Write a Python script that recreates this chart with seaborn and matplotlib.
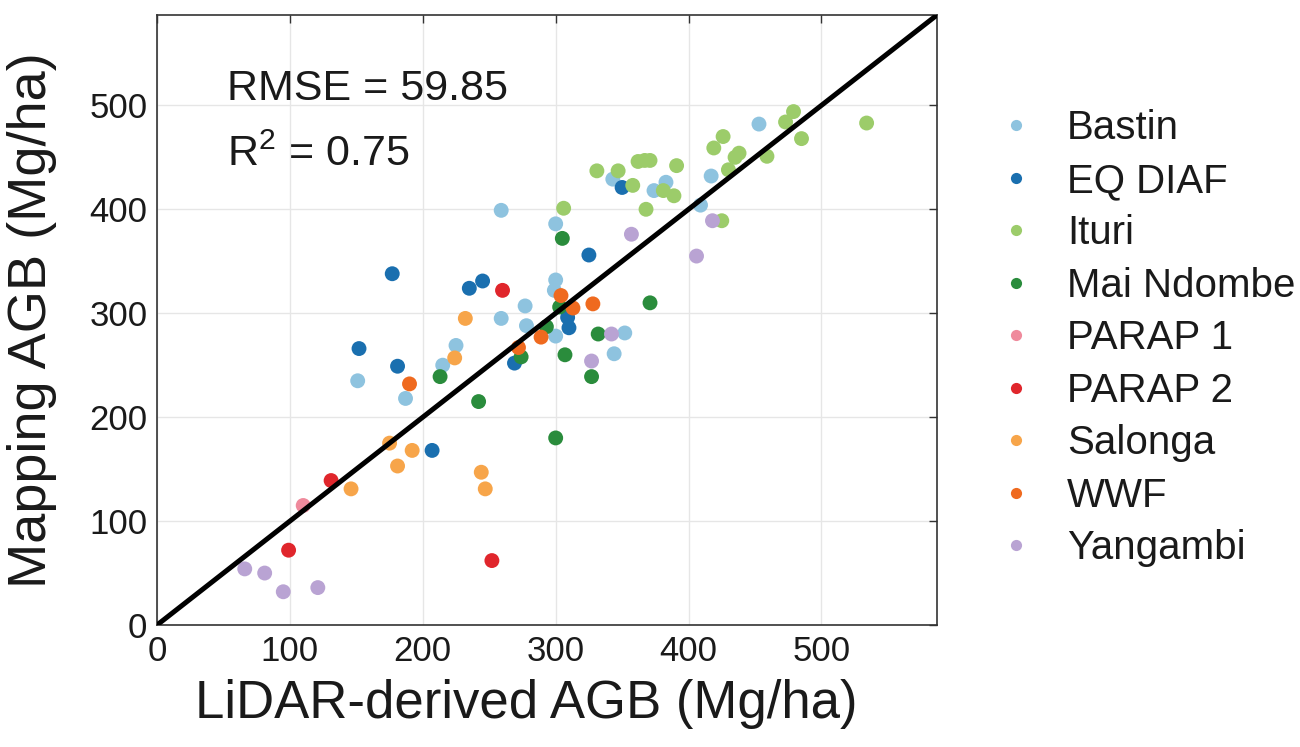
import numpy as np
import pandas as pd
import matplotlib
matplotlib.use("Agg")
import matplotlib.pyplot as plt
import seaborn as sns

# ---------------- data ----------------
groups = ["Bastin", "EQ DIAF", "Ituri", "Mai Ndombe", "PARAP 1",
          "PARAP 2", "Salonga", "WWF", "Yangambi"]

bastin_x = [259, 300, 300, 299, 277, 259, 278, 300, 225, 215, 344, 352, 151, 187, 453, 417, 343, 383, 374, 409]
bastin_y = [399, 386, 332, 322, 307, 295, 288, 278, 269, 250, 261, 281, 235, 218, 482, 432, 429, 426, 418, 404]

eqdiaf_x = [177, 235, 245, 325, 309, 310, 269, 152, 181, 207, 350]
eqdiaf_y = [338, 324, 331, 356, 296, 286, 252, 266, 249, 168, 421]

ituri_x = [306, 479, 473, 534, 485, 426, 419, 438, 435, 459, 362, 367, 371, 391, 331, 347, 430, 358, 381, 389, 368, 425]
ituri_y = [401, 494, 484, 483, 468, 470, 459, 454, 450, 451, 446, 447, 447, 442, 437, 437, 438, 423, 418, 413, 400, 389]

maindombe_x = [305, 303, 293, 332, 274, 213, 307, 327, 242, 300, 371]
maindombe_y = [372, 306, 287, 280, 258, 239, 260, 239, 215, 180, 310]

parap1_x = [110]
parap1_y = [115]

parap2_x = [260, 131, 99, 252]
parap2_y = [322, 139, 72, 62]

salonga_x = [232, 224, 175, 192, 181, 244, 247, 146]
salonga_y = [295, 257, 175, 168, 153, 147, 131, 131]

wwf_x = [304, 328, 313, 289, 272, 190]
wwf_y = [317, 309, 305, 277, 267, 232]

yangambi_x = [342, 327, 357, 418, 406, 66, 81, 95, 121]
yangambi_y = [280, 254, 376, 389, 355, 54, 50, 32, 36]

ticks = [0, 100, 200, 300, 400, 500]
rmse_text = "RMSE = 59.85"
r2_text = r"R$^{\mathrm{2}}$ = 0.75"
xlabel = "LiDAR-derived AGB (Mg/ha)"
ylabel = "Mapping AGB (Mg/ha)"

colors = ["#8ec3df", "#1a6faf", "#9ccc6a", "#2a8c3c", "#ef8a9c",
          "#e0262c", "#f7a54a", "#ef6a1f", "#b9a3d3"]

# ---------------- build frame ----------------
xs = [bastin_x, eqdiaf_x, ituri_x, maindombe_x, parap1_x, parap2_x, salonga_x, wwf_x, yangambi_x]
ys = [bastin_y, eqdiaf_y, ituri_y, maindombe_y, parap1_y, parap2_y, salonga_y, wwf_y, yangambi_y]
rows = []
for g, xx, yy in zip(groups, xs, ys):
    for a, b in zip(xx, yy):
        rows.append((g, a, b))
df = pd.DataFrame(rows, columns=["site", "lidar", "mapping"])

# ---------------- style ----------------
sns.set_theme(style="white")
plt.rcParams["font.family"] = ["Liberation Sans", "DejaVu Sans"]
plt.rcParams["mathtext.fontset"] = "custom"
plt.rcParams["mathtext.rm"] = "Liberation Sans"
plt.rcParams["mathtext.it"] = "Liberation Sans:italic"

fig = plt.figure(figsize=(13, 7.47), dpi=100)
ax = fig.add_axes([0.1208, 0.1633, 0.6, 0.8167])

lim = 587
ax.set_xlim(0, lim)
ax.set_ylim(0, lim)

ax.grid(True, color="#e6e6e6", linewidth=1.0)
ax.set_axisbelow(True)

sns.scatterplot(data=df, x="lidar", y="mapping", hue="site", hue_order=groups,
                palette=colors, s=115, linewidth=0, ax=ax, zorder=3, legend=True)

ax.plot([0, lim], [0, lim], color="black", linewidth=3.6, zorder=4,
        solid_capstyle="round")

ax.set_xticks(ticks)
ax.set_yticks(ticks)
ax.tick_params(axis="both", which="both", direction="in", length=6, width=1,
               top=True, right=True, labelsize=25, color="#333333",
               labelcolor="#1a1a1a", pad=7)
for sp in ax.spines.values():
    sp.set_color("#333333")
    sp.set_linewidth(1.2)

ax.set_xlabel(xlabel, fontsize=38, color="#1a1a1a")
ax.set_ylabel(ylabel, fontsize=39, color="#1a1a1a")
ax.xaxis.set_label_coords(0.473, -0.088)
ax.yaxis.set_label_coords(-0.128, 0.5)

ax.text(53, 505, rmse_text, fontsize=31, color="#1a1a1a", va="baseline")
ax.text(53, 442, r2_text, fontsize=31, color="#1a1a1a", va="baseline")

leg = ax.legend(loc="upper left", bbox_to_anchor=(0.754, 0.875),
                bbox_transform=fig.transFigure, frameon=False,
                fontsize=29, markerscale=0.75, handletextpad=0.75,
                labelspacing=0.36, borderaxespad=0, handlelength=1.0)
for t in leg.get_texts():
    t.set_color("#1a1a1a")

fig.savefig("out.png", dpi=100)
